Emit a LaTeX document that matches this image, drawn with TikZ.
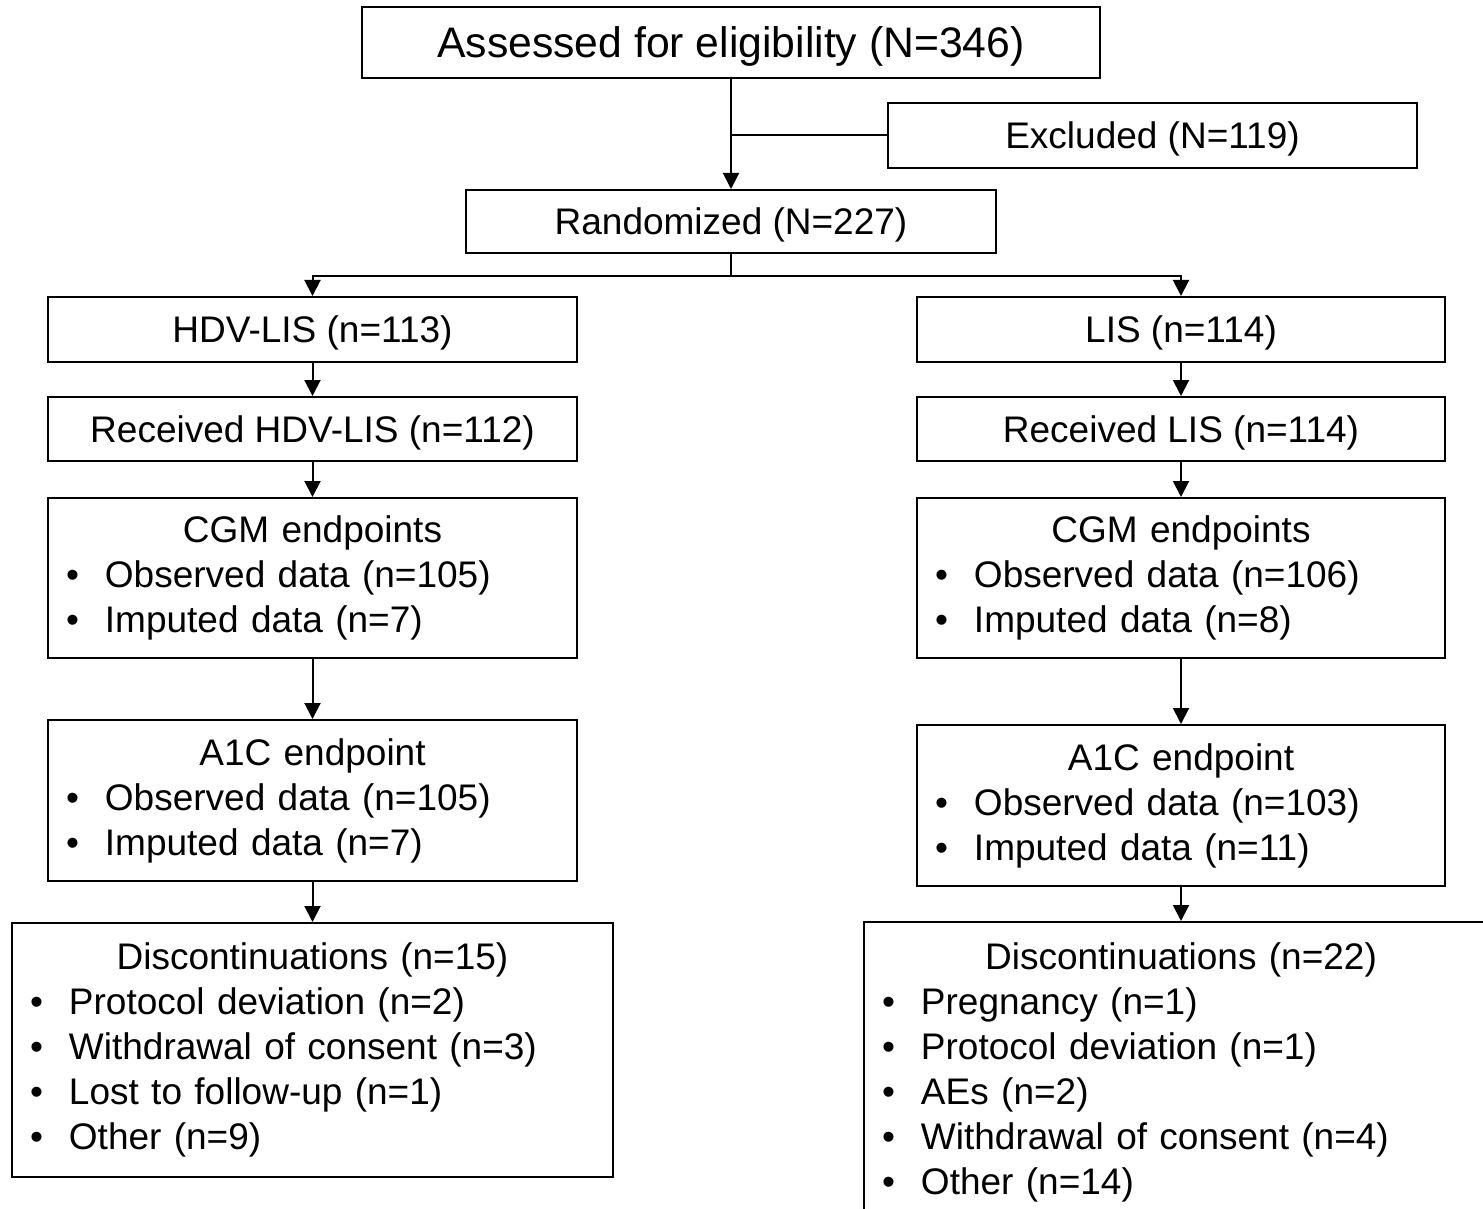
\documentclass[tikz,border=0pt]{standalone}
\usepackage{fontspec}
\setmainfont{Liberation Sans}
\usepackage{tikz}
\usetikzlibrary{arrows.meta,shapes,positioning}
\setlength{\parindent}{0pt}
\tikzstyle{arrow} = [line width=1pt,-{Triangle[length=8pt,width=8pt]}]
\tikzstyle{line} = [line width=1pt]
\tikzstyle{flowbox} = [rectangle, draw, line width=1pt, text centered, inner sep=0pt, text depth=0pt, font=\fontsize{18.5}{22.5}\selectfont]
\tikzstyle{listbox} = [rectangle, draw, line width=1pt, align=left, inner xsep=9pt, inner ysep=0pt, font=\fontsize{18.5}{22.5}\selectfont]
\newcommand{\bitem}[1]{\makebox[19.5pt][l]{\textbullet}#1}
\newcommand{\btitle}[1]{\makebox[\hsize][c]{#1}}

\begin{document}
\begin{tikzpicture}
\useasboundingbox (0,0) rectangle (741.5pt,-604.5pt);
\clip (0,0) rectangle (741.5pt,-604.5pt);
% Enrollment
\node (assessed) [flowbox, minimum width=369pt, minimum height=35.5pt, font=\fontsize{21.35}{25}\selectfont] at (365.5pt,-21.25pt) {Assessed for eligibility (N=346)};
\node (excluded) [flowbox, below of=assessed, node distance=46.5pt, xshift=210.75pt, minimum width=264.5pt, minimum height=32.5pt] {Excluded (N=119)};
\node (randomized) [flowbox, below of=assessed, node distance=89.5pt, minimum width=265pt, minimum height=31.5pt] {Randomized (N=227)};

% Arms
\node (hdv) [flowbox, below of=randomized, node distance=54pt, xshift=-209.25pt, minimum width=264.5pt, minimum height=32.5pt] {HDV-LIS (n=113)};
\node (lis) [flowbox, below of=randomized, node distance=54pt, xshift=225pt, minimum width=264pt, minimum height=32.5pt] {LIS (n=114)};

\node (rechdv) [flowbox, below of=hdv, node distance=49.75pt, minimum width=264.5pt, minimum height=32pt] {Received HDV-LIS (n=112)};
\node (reclis) [flowbox, below of=lis, node distance=49.75pt, minimum width=264pt, minimum height=32pt] {Received LIS (n=114)};

% Endpoints
\node (cgmhdv) [listbox, below of=rechdv, node distance=74.5pt, text width=246.5pt, minimum height=80pt] {\btitle{CGM endpoints}\\\bitem{Observed data (n=105)}\\\bitem{Imputed data (n=7)}};
\node (cgmlis) [listbox, below of=reclis, node distance=74.5pt, text width=246pt, minimum height=80pt] {\btitle{CGM endpoints}\\\bitem{Observed data (n=106)}\\\bitem{Imputed data (n=8)}};

\node (aichdv) [listbox, below of=cgmhdv, node distance=111.25pt, text width=246.5pt, minimum height=80.5pt] {\btitle{A1C endpoint}\\\bitem{Observed data (n=105)}\\\bitem{Imputed data (n=7)}};
\node (aiclis) [listbox, below of=cgmlis, node distance=113.75pt, text width=246pt, minimum height=80.5pt] {\btitle{A1C endpoint}\\\bitem{Observed data (n=103)}\\\bitem{Imputed data (n=11)}};

% Discontinuations
\node (dischdv) [listbox, below of=aichdv, node distance=124.75pt, text width=282.5pt, minimum height=127pt] {\btitle{Discontinuations (n=15)}\\\bitem{Protocol deviation (n=2)}\\\bitem{Withdrawal of consent (n=3)}\\\bitem{Lost to follow-up (n=1)}\\\bitem{Other (n=9)}};
\node (dislis) [listbox, below of=aiclis, node distance=133.25pt, text width=299pt, minimum height=150pt] {\btitle{Discontinuations (n=22)}\\\bitem{Pregnancy (n=1)}\\\bitem{Protocol deviation (n=1)}\\\bitem{AEs (n=2)}\\\bitem{Withdrawal of consent (n=4)}\\\bitem{Other (n=14)}};

% Arrows
\draw[arrow] (assessed) -- (randomized);
\draw[line] (excluded.west) -- (excluded.west -| assessed.south);
\draw[line] (randomized.south) -- ++(0,-11pt) coordinate (split);
\draw[arrow] (split) -| (hdv.north);
\draw[arrow] (split) -| (lis.north);
\draw[arrow] (hdv) -- (rechdv);
\draw[arrow] (lis) -- (reclis);
\draw[arrow] (rechdv) -- (cgmhdv);
\draw[arrow] (reclis) -- (cgmlis);
\draw[arrow] (cgmhdv) -- (aichdv);
\draw[arrow] (cgmlis) -- (aiclis);
\draw[arrow] (aichdv) -- (dischdv);
\draw[arrow] (aiclis) -- (dislis);
\end{tikzpicture}
\end{document}
